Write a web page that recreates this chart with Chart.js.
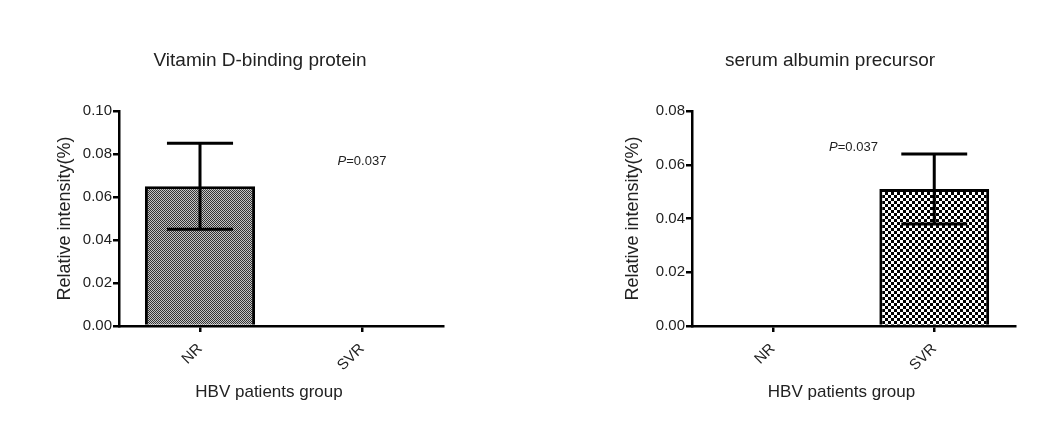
<!DOCTYPE html>
<html>
<head>
<meta charset="utf-8">
<script src="https://cdn.jsdelivr.net/npm/chart.js@4/dist/chart.umd.min.js"></script>
<style>
  html, body { margin: 0; padding: 0; background: #fff; }
  #wrap { position: relative; width: 1038px; height: 441px; background: #fff; }
  .cell { position: absolute; top: 0; width: 519px; height: 441px; }
</style>
</head>
<body>
<div id="wrap">
  <div class="cell" style="left:0"><canvas id="c1" width="519" height="441"></canvas></div>
  <div class="cell" style="left:519px"><canvas id="c2" width="519" height="441"></canvas></div>
</div>
<script>
// ---- data ----
const categories = ['NR', 'SVR'];
const vdbpTitle = 'Vitamin D-binding protein';
const vdbpMean = [0.065, null];
const vdbpUpper = [0.085, null];
const vdbpLower = [0.045, null];
const vdbpMax = 0.10;

const albTitle = 'serum albumin precursor';
const albMean = [null, 0.051];
const albUpper = [null, 0.064];
const albLower = [null, 0.038];
const albMax = 0.08;

const yStep = 0.02;
const yAxisTitle = 'Relative intensity(%)';
const xAxisTitle = 'HBV patients group';
const pText = 'P=0.037';

const FONT = "'Liberation Sans', Arial, sans-serif";
const TXT = '#222';

function makePattern(kind) {
  const c = document.createElement('canvas');
  const ctx = c.getContext('2d');
  if (kind === 'fine') {
    c.width = 2; c.height = 2;
    ctx.fillStyle = '#c4c4c4'; ctx.fillRect(0, 0, 2, 2);
    ctx.fillStyle = '#333'; ctx.fillRect(0, 0, 1, 1); ctx.fillRect(1, 1, 1, 1);
  } else {
    c.width = 6; c.height = 6;
    ctx.fillStyle = '#fff'; ctx.fillRect(0, 0, 6, 6);
    ctx.fillStyle = '#000'; ctx.fillRect(0, 0, 3, 3); ctx.fillRect(3, 3, 3, 3);
  }
  return ctx.createPattern(c, 'repeat');
}

const annotPlugin = {
  id: 'annot',
  afterDatasetsDraw(chart, args, opts) {
    const ctx = chart.ctx;
    const meta = chart.getDatasetMeta(0);
    const y = chart.scales.y;
    const xs = chart.scales.x;
    const ca = chart.chartArea;
    ctx.save();
    // error bars
    ctx.strokeStyle = '#000';
    ctx.lineWidth = 3;
    opts.upper.forEach((u, i) => {
      if (u == null) return;
      const bar = meta.data[i];
      const x = bar.x;
      const half = bar.width * 0.3;
      const yu = y.getPixelForValue(u), yl = y.getPixelForValue(opts.lower[i]);
      ctx.beginPath();
      ctx.moveTo(x, yu); ctx.lineTo(x, yl);
      ctx.moveTo(x - half, yu); ctx.lineTo(x + half, yu);
      ctx.moveTo(x - half, yl); ctx.lineTo(x + half, yl);
      ctx.stroke();
    });
    // chart title
    ctx.fillStyle = TXT;
    ctx.textBaseline = 'middle';
    ctx.textAlign = 'center';
    ctx.font = '19px ' + FONT;
    ctx.fillText(opts.title, ca.left + opts.titleDx, 61);
    // x axis title
    ctx.font = '17px ' + FONT;
    ctx.fillText(xAxisTitle, (ca.left + ca.right) / 2 + opts.xTitleDx, 392);
    // p-value label
    const px = xs.getPixelForValue(opts.pAt[0]);
    const py = y.getPixelForValue(opts.pAt[1]);
    ctx.font = 'italic 13px ' + FONT;
    const wP = ctx.measureText('P').width;
    ctx.font = '13px ' + FONT;
    const wR = ctx.measureText(pText.slice(1)).width;
    const sx = px - (wP + wR) / 2;
    ctx.textAlign = 'left';
    ctx.font = 'italic 13px ' + FONT;
    ctx.fillText('P', sx, py);
    ctx.font = '13px ' + FONT;
    ctx.fillText(pText.slice(1), sx + wP, py);
    ctx.restore();
  }
};

function build(id, title, mean, upper, lower, max, pattern, pad, yw, ytp, pAt, titleDx) {
  return new Chart(document.getElementById(id), {
    type: 'bar',
    data: {
      labels: categories,
      datasets: [{
        data: mean,
        backgroundColor: pattern,
        borderColor: '#000',
        borderWidth: 3,
        borderSkipped: 'start',
        barPercentage: 0.68,
        categoryPercentage: 1.0
      }]
    },
    options: {
      responsive: false,
      animation: false,
      events: [],
      layout: { padding: pad },
      plugins: {
        legend: { display: false },
        tooltip: { enabled: false },
        title: { display: false },
        annot: { upper: upper, lower: lower, pAt: pAt, title: title, titleDx: titleDx, xTitleDx: -12 }
      },
      scales: {
        x: {
          offset: true,
          border: { display: true, color: '#000', width: 2.5 },
          grid: { display: true, drawOnChartArea: false, drawTicks: true, tickLength: 6, color: '#000', lineWidth: 2.5, offset: false },
          ticks: { color: TXT, font: { family: FONT, size: 15 }, minRotation: 45, maxRotation: 45, padding: 8 },
          title: { display: false },
          afterFit(s) { s.height = 80; }
        },
        y: {
          min: 0, max: max,
          border: { display: true, color: '#000', width: 2.5 },
          grid: { display: true, drawOnChartArea: false, drawTicks: true, tickLength: 6, color: '#000', lineWidth: 2.5 },
          ticks: { stepSize: yStep, color: TXT, font: { family: FONT, size: 15 }, padding: 1,
                   callback: v => Number(v).toFixed(2) },
          title: { display: true, text: yAxisTitle, color: TXT, font: { family: FONT, size: 18 }, padding: { top: ytp, bottom: 0 } },
          afterFit(s) { s.width = yw; }
        }
      }
    },
    plugins: [annotPlugin]
  });
}

build('c1', vdbpTitle, vdbpMean, vdbpUpper, vdbpLower, vdbpMax, makePattern('fine'),
      { top: 111, left: 50, right: 76, bottom: 35 }, 69, 4, [1, 0.0767], 141);
build('c2', albTitle, albMean, albUpper, albLower, albMax, makePattern('check'),
      { top: 111, left: 100, right: 23, bottom: 35 }, 73, 3, [0.5, 0.0666], 138);
</script>
</body>
</html>
